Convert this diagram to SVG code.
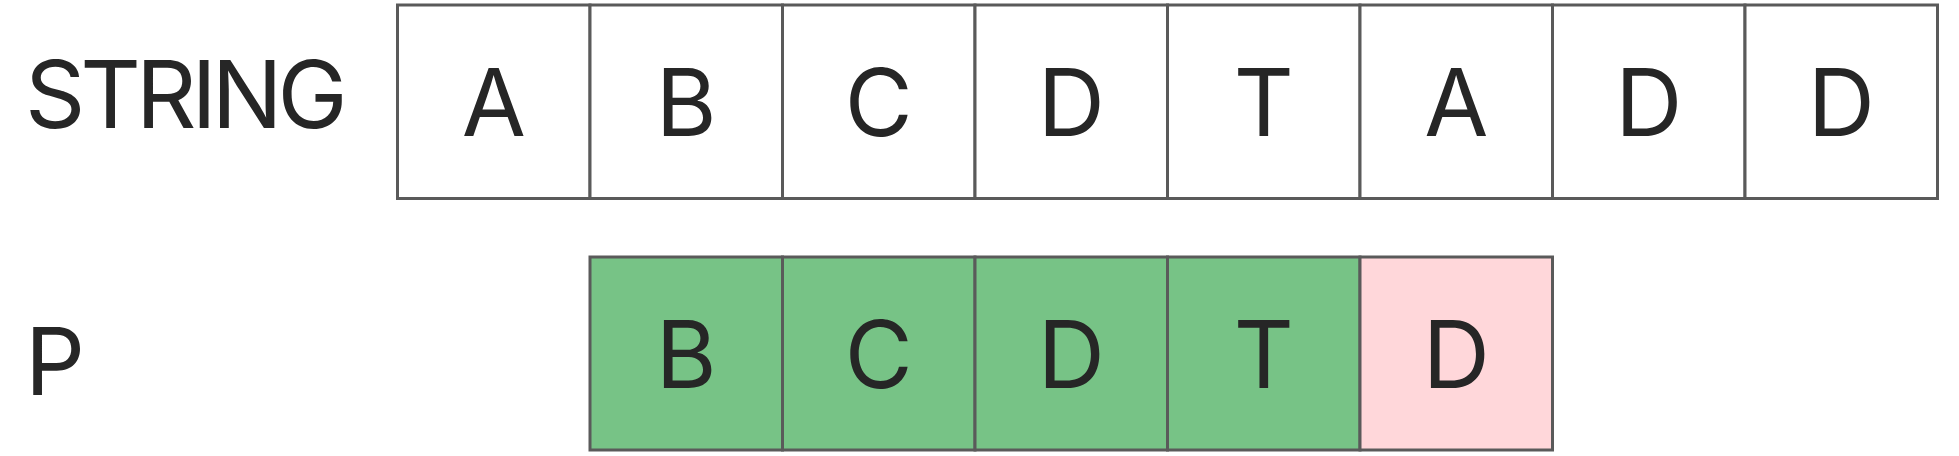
<svg xmlns="http://www.w3.org/2000/svg" width="1959" height="456" viewBox="0 0 1959 456">
<style>
.cell{stroke:#5a5a5a;stroke-width:3}
.w{fill:#ffffff}
.g{fill:#77c386}
.p{fill:#ffd7da}
.t{font-family:Inter,"Liberation Sans",sans-serif;font-size:93px;fill:#262626;text-anchor:middle}
.lbl{font-family:Inter,"Liberation Sans",sans-serif;font-size:94px;fill:#262626;letter-spacing:-5px}
</style>
<rect width="1959" height="456" fill="#ffffff"/>
<g id="label-string"><text class="lbl" x="25" y="128">STRING</text></g>
<g id="label-p"><text class="lbl" x="25" y="395">P</text></g>
<g id="s0"><rect class="cell w" x="397.5" y="5" width="192.5" height="193.5"/><text class="t" x="493.75" y="136">A</text></g>
<g id="s1"><rect class="cell w" x="590" y="5" width="192.5" height="193.5"/><text class="t" x="686.25" y="136">B</text></g>
<g id="s2"><rect class="cell w" x="782.5" y="5" width="192.5" height="193.5"/><text class="t" x="878.75" y="136">C</text></g>
<g id="s3"><rect class="cell w" x="975" y="5" width="192.5" height="193.5"/><text class="t" x="1071.25" y="136">D</text></g>
<g id="s4"><rect class="cell w" x="1167.5" y="5" width="192.5" height="193.5"/><text class="t" x="1263.75" y="136">T</text></g>
<g id="s5"><rect class="cell w" x="1360" y="5" width="192.5" height="193.5"/><text class="t" x="1456.25" y="136">A</text></g>
<g id="s6"><rect class="cell w" x="1552.5" y="5" width="192.5" height="193.5"/><text class="t" x="1648.75" y="136">D</text></g>
<g id="s7"><rect class="cell w" x="1745" y="5" width="192.5" height="193.5"/><text class="t" x="1841.25" y="136">D</text></g>
<g id="p0"><rect class="cell g" x="590" y="257" width="192.5" height="193"/><text class="t" x="686.25" y="388">B</text></g>
<g id="p1"><rect class="cell g" x="782.5" y="257" width="192.5" height="193"/><text class="t" x="878.75" y="388">C</text></g>
<g id="p2"><rect class="cell g" x="975" y="257" width="192.5" height="193"/><text class="t" x="1071.25" y="388">D</text></g>
<g id="p3"><rect class="cell g" x="1167.5" y="257" width="192.5" height="193"/><text class="t" x="1263.75" y="388">T</text></g>
<g id="p4"><rect class="cell p" x="1360" y="257" width="192.5" height="193"/><text class="t" x="1456.25" y="388">D</text></g>
<g id="connectors"></g>
</svg>
